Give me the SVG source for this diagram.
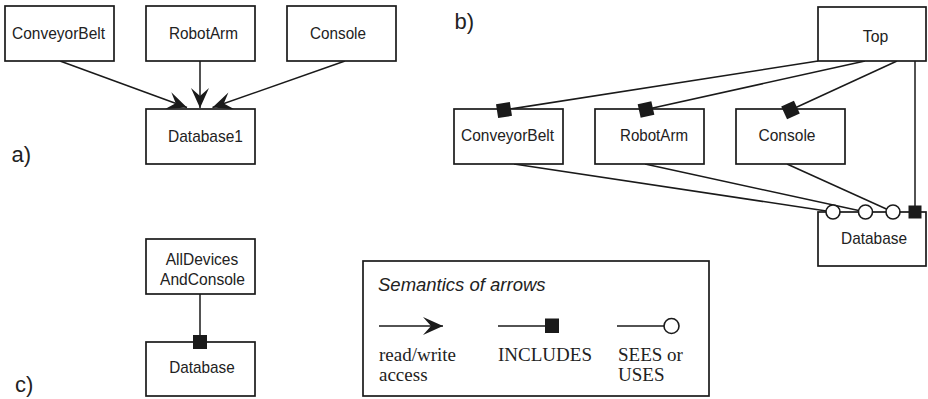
<svg xmlns="http://www.w3.org/2000/svg" width="928" height="399" viewBox="0 0 928 399">
  <style>
    .box { fill: #fff; stroke: #1a1a1a; stroke-width: 1.7; }
    .lbl { font-family: "Liberation Sans", Arial, sans-serif; font-size: 17px; fill: #222; text-anchor: middle; }
    .tag { font-family: "Liberation Sans", Arial, sans-serif; font-size: 22px; fill: #222; }
    .wire { fill: none; stroke: #1a1a1a; stroke-width: 1.5; }
    .inc { fill: #1a1a1a; stroke: none; }
    .use { fill: #fff; stroke: #1a1a1a; stroke-width: 1.6; }
    .legt { font-family: "Liberation Serif", "Times New Roman", serif; font-size: 19px; fill: #222; }
    .legh { font-family: "Liberation Sans", Arial, sans-serif; font-size: 18.5px; font-style: italic; fill: #222; }
  </style>
  <defs>
    <marker id="rw" markerUnits="userSpaceOnUse" viewBox="-21 -10 22 20" refX="0" refY="0" markerWidth="22" markerHeight="20" orient="auto">
      <path d="M0,0 L-20,-9 L-12,0 L-20,9 Z" fill="#1a1a1a"/>
    </marker>
  </defs>

  <!-- panel labels -->
  <text class="tag" x="11.5" y="161.5">a)</text>
  <text class="tag" x="454.5" y="28.5">b)</text>
  <text class="tag" x="15" y="391.5">c)</text>

  <!-- (a) read/write access to Database1 -->
  <g id="connectors-a">
    <line class="wire" x1="60" y1="61" x2="187" y2="107.5" marker-end="url(#rw)"/>
    <line class="wire" x1="200" y1="61" x2="200" y2="108" marker-end="url(#rw)"/>
    <line class="wire" x1="345" y1="61" x2="212.5" y2="107.5" marker-end="url(#rw)"/>
  </g>
  <g id="a-conveyorbelt">
    <rect class="box" x="5" y="6" width="109" height="55"/>
    <text class="lbl" x="58.5" y="38.5" textLength="93" lengthAdjust="spacingAndGlyphs">ConveyorBelt</text>
  </g>
  <g id="a-robotarm">
    <rect class="box" x="146" y="6" width="109" height="55"/>
    <text class="lbl" x="203.5" y="38.5" textLength="69" lengthAdjust="spacingAndGlyphs">RobotArm</text>
  </g>
  <g id="a-console">
    <rect class="box" x="287" y="6" width="109" height="55"/>
    <text class="lbl" x="338" y="38.5" textLength="56" lengthAdjust="spacingAndGlyphs">Console</text>
  </g>
  <g id="a-database1">
    <rect class="box" x="146" y="109" width="109" height="55"/>
    <text class="lbl" x="205.5" y="141.5" textLength="75" lengthAdjust="spacingAndGlyphs">Database1</text>
  </g>

  <!-- (b) Top includes devices and Database; devices see Database -->
  <g id="connectors-b">
    <line class="wire" x1="818" y1="61" x2="504" y2="110"/>
    <line class="wire" x1="865" y1="61" x2="646" y2="109.5"/>
    <line class="wire" x1="897" y1="61" x2="790.5" y2="110"/>
    <line class="wire" x1="915" y1="61" x2="915" y2="212"/>
    <line class="wire" x1="514" y1="164" x2="833" y2="212"/>
    <line class="wire" x1="645" y1="164" x2="865.5" y2="212"/>
    <line class="wire" x1="787" y1="164" x2="893" y2="212"/>
  </g>
  <g id="b-top">
    <rect class="box" x="818" y="7" width="108" height="54"/>
    <text class="lbl" x="875.5" y="42" textLength="25.5" lengthAdjust="spacingAndGlyphs">Top</text>
  </g>
  <g id="b-conveyorbelt">
    <rect class="box" x="454" y="109" width="109" height="55"/>
    <text class="lbl" x="507.5" y="141" textLength="93" lengthAdjust="spacingAndGlyphs">ConveyorBelt</text>
  </g>
  <g id="b-robotarm">
    <rect class="box" x="595" y="109" width="109" height="55"/>
    <text class="lbl" x="654" y="141" textLength="68" lengthAdjust="spacingAndGlyphs">RobotArm</text>
  </g>
  <g id="b-console">
    <rect class="box" x="736" y="109" width="109" height="55"/>
    <text class="lbl" x="787" y="141" textLength="57" lengthAdjust="spacingAndGlyphs">Console</text>
  </g>
  <g id="b-database">
    <rect class="box" x="818" y="212" width="108" height="54"/>
    <text class="lbl" x="874" y="244" textLength="66" lengthAdjust="spacingAndGlyphs">Database</text>
  </g>
  <g id="ends-b">
    <rect class="inc" x="-7" y="-7" width="14" height="14" transform="translate(504,110) rotate(-8.9)"/>
    <rect class="inc" x="-7" y="-7" width="14" height="14" transform="translate(646,109.5) rotate(-12.4)"/>
    <rect class="inc" x="-7" y="-7" width="14" height="14" transform="translate(790.5,110) rotate(-24.6)"/>
    <rect class="inc" x="908.5" y="205.5" width="13" height="13"/>
    <circle class="use" cx="833" cy="212" r="7"/>
    <circle class="use" cx="865.5" cy="212" r="7"/>
    <circle class="use" cx="893" cy="212" r="7"/>
  </g>

  <!-- (c) combined machine includes Database -->
  <g id="connectors-c">
    <line class="wire" x1="200" y1="294" x2="200" y2="342"/>
  </g>
  <g id="c-alldevices">
    <rect class="box" x="146" y="239" width="109" height="55"/>
    <text class="lbl" x="202" y="265" textLength="72.5" lengthAdjust="spacingAndGlyphs">AllDevices</text>
    <text class="lbl" x="202.5" y="285" textLength="85" lengthAdjust="spacingAndGlyphs">AndConsole</text>
  </g>
  <g id="c-database">
    <rect class="box" x="146" y="342" width="109" height="54"/>
    <text class="lbl" x="202" y="373" textLength="65.5" lengthAdjust="spacingAndGlyphs">Database</text>
  </g>
  <rect class="inc" x="193" y="335" width="14" height="14"/>

  <!-- legend -->
  <g id="legend">
    <rect class="box" x="363" y="261" width="346" height="135"/>
    <text class="legh" x="378" y="291">Semantics of arrows</text>
    <line class="wire" x1="379" y1="326" x2="443" y2="326" marker-end="url(#rw)"/>
    <line class="wire" x1="498" y1="326" x2="546" y2="326"/>
    <rect class="inc" x="545" y="318.5" width="14" height="14.5"/>
    <line class="wire" x1="617" y1="326" x2="664" y2="326"/>
    <circle class="use" cx="671.5" cy="326" r="7.5"/>
    <text class="legt" x="379" y="361">read/write</text>
    <text class="legt" x="379" y="381">access</text>
    <text class="legt" x="498" y="361">INCLUDES</text>
    <text class="legt" x="618" y="361">SEES or</text>
    <text class="legt" x="618" y="381">USES</text>
  </g>
</svg>
